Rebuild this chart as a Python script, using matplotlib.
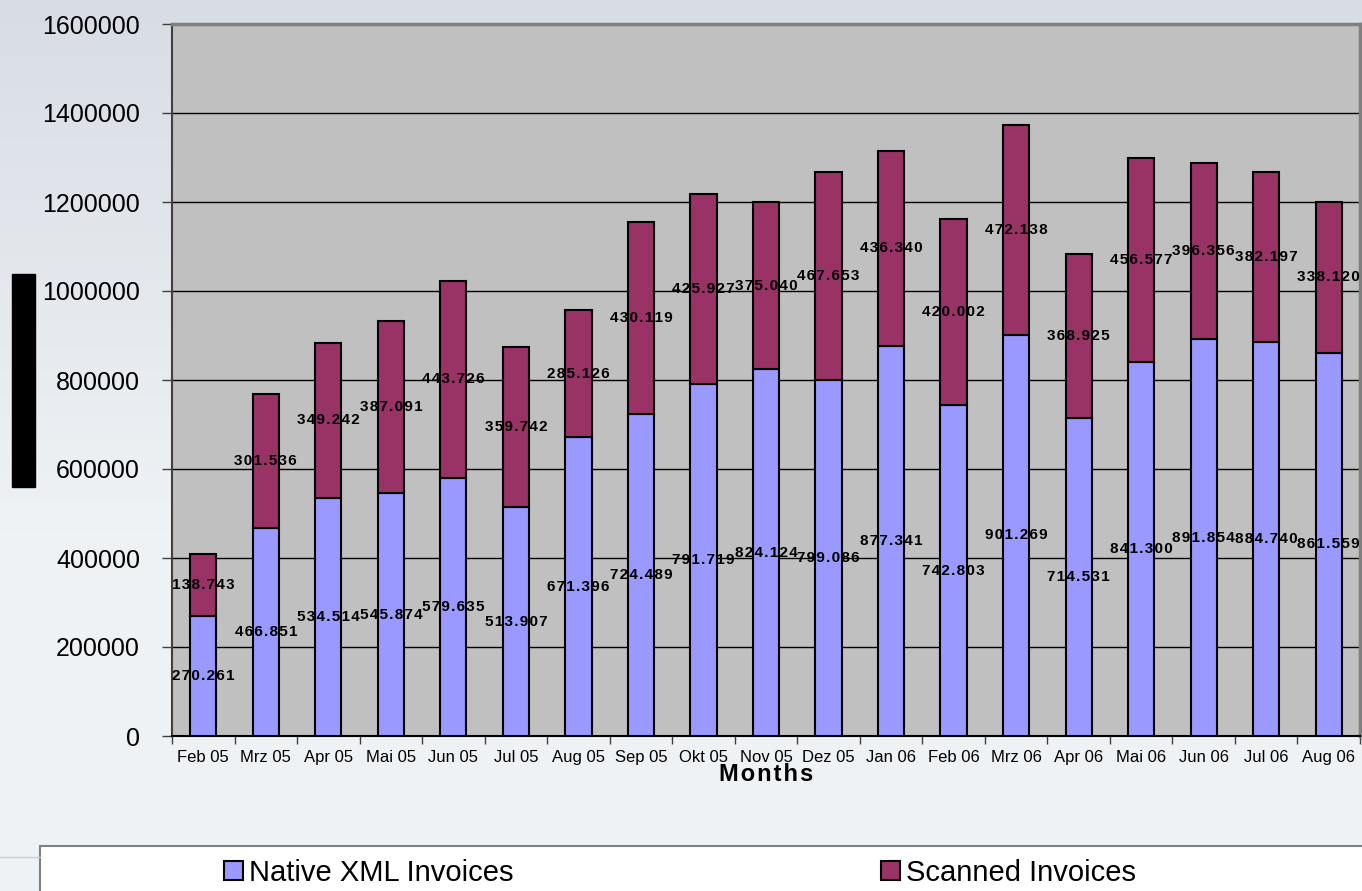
import matplotlib.pyplot as plt
import matplotlib.patches as mpatches
from matplotlib.lines import Line2D
import numpy as np

months = ['Feb 05', 'Mrz 05', 'Apr 05', 'Mai 05', 'Jun 05', 'Jul 05', 'Aug 05',
          'Sep 05', 'Okt 05', 'Nov 05', 'Dez 05', 'Jan 06', 'Feb 06', 'Mrz 06',
          'Apr 06', 'Mai 06', 'Jun 06', 'Jul 06', 'Aug 06']
native_xml = [270261, 466851, 534514, 545874, 579635, 513907, 671396,
              724489, 791719, 824124, 799086, 877341, 742803, 901269,
              714531, 841300, 891854, 884740, 861559]
scanned = [138743, 301536, 349242, 387091, 443726, 359742, 285126,
           430119, 425927, 375040, 467653, 436340, 420002, 472138,
           368925, 456577, 396356, 382197, 338120]
yticks = [0, 200000, 400000, 600000, 800000, 1000000, 1200000, 1400000, 1600000]

HS = '\u200a'  # hair space, used to mimic the wide letter spacing


def spaced(s):
    return HS.join(s)


def fmt(v):
    return spaced(f'{v:,}'.replace(',', '.'))


plt.rcParams['font.family'] = ['Liberation Sans', 'DejaVu Sans']

W, H = 1362, 891
fig = plt.figure(figsize=(W / 100, H / 100), dpi=100)

# background gradient
bg = fig.add_axes([0, 0, 1, 1], zorder=-10)
top = np.array([0xd8, 0xdd, 0xe5]) / 255
bot = np.array([0xef, 0xf2, 0xf5]) / 255
t = np.linspace(0, 1, 256)
t = np.clip(t / 0.6, 0, 1)[:, None]
grad = (top * (1 - t) + bot * t)[:, None, :]
bg.imshow(grad, aspect='auto', extent=[0, 1, 0, 1])
bg.set_axis_off()

ax = fig.add_axes([172 / W, 1 - 736 / H, (1360 - 172) / W, (736 - 24) / H])
ax.set_facecolor('#c0c0c0')

x = np.arange(len(months))
bw = 0.42
ax.bar(x, native_xml, bw, color='#9999ff', edgecolor='black', linewidth=1.5,
       label='Native XML Invoices', zorder=3)
ax.bar(x, scanned, bw, bottom=native_xml, color='#993366', edgecolor='black',
       linewidth=1.5, label='Scanned Invoices', zorder=3)

for i in range(len(months)):
    ax.text(x[i], native_xml[i] / 2, fmt(native_xml[i]), ha='center', va='center',
            fontsize=11, fontweight='bold', zorder=5)
    ax.text(x[i], native_xml[i] + scanned[i] / 2, fmt(scanned[i]), ha='center',
            va='center', fontsize=11, fontweight='bold', zorder=5)

ax.set_xlim(-0.5, len(months) - 0.5)
ax.set_ylim(0, 1600000)
ax.set_yticks(yticks)
ax.set_yticklabels([str(v) for v in yticks], fontsize=18)
ax.yaxis.grid(True, color='black', linewidth=1)
ax.set_axisbelow(True)
ax.tick_params(axis='y', length=7, width=1, color='#404040', pad=16)

ax.set_xticks(x)
ax.set_xticklabels(months, fontsize=12)
ax.set_xticks(np.arange(-0.5, len(months)), minor=True)
ax.tick_params(axis='x', which='major', length=0, pad=10)
ax.tick_params(axis='x', which='minor', length=6, width=1, color='#404040')
ax.set_xlabel(spaced('Months'), fontsize=17, fontweight='bold', labelpad=-1.5)

ax.spines['left'].set_color('#404040')
ax.spines['left'].set_linewidth(1.5)
ax.spines['bottom'].set_color('black')
ax.spines['bottom'].set_linewidth(1.5)
for s in ['top', 'right']:
    ax.spines[s].set_color('#808080')
    ax.spines[s].set_linewidth(2.5)

# redacted y axis title block
fig.patches.append(mpatches.Rectangle((12 / W, 1 - 487 / H), 23 / W, 213 / H,
                                      transform=fig.transFigure, color='black'))

# legend box
fig.patches.append(mpatches.Rectangle((40 / W, -0.05), 1.0, 0.05 + (891 - 846) / H,
                                      transform=fig.transFigure, facecolor='white',
                                      edgecolor='#808080', linewidth=1.5))
fig.lines.append(Line2D([0, 40 / W], [1 - 857 / H] * 2, transform=fig.transFigure,
                        color='#c8ccd2', linewidth=1))

h, l = ax.get_legend_handles_labels()
fig.legend(h, l, loc='center left', bbox_to_anchor=(224 / W, 1 - 873 / H),
           ncol=2, frameon=False, fontsize=21, handlelength=0.65, handleheight=0.65,
           handletextpad=0.2, columnspacing=12.6, borderpad=0, borderaxespad=0)

fig.savefig('out.png', dpi=100)
